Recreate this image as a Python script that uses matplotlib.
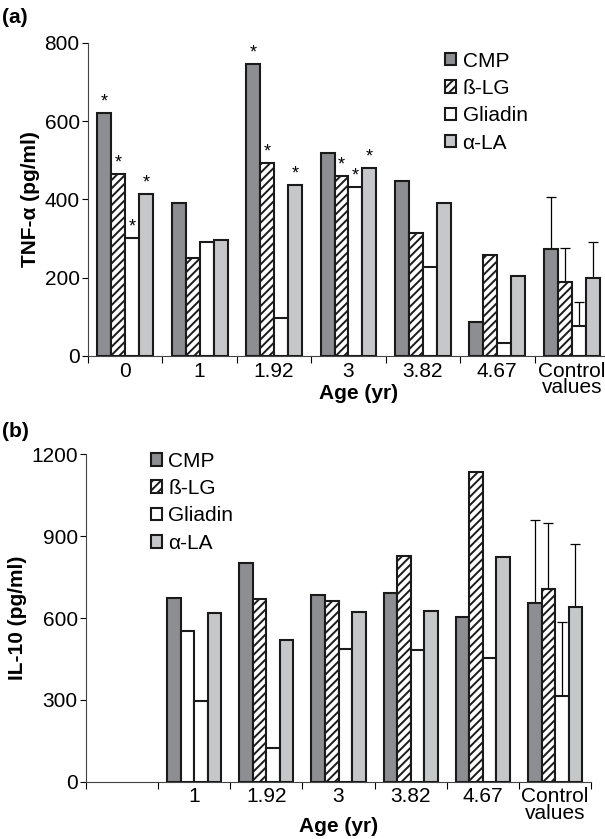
import numpy as np
import matplotlib.pyplot as plt

plt.rcParams["font.family"] = ["Liberation Sans", "DejaVu Sans"]
plt.rcParams["hatch.linewidth"] = 1.4

SERIES = ["CMP", "ß-LG", "Gliadin", "α-LA"]
AGES_A = ["0", "1", "1.92", "3", "3.82", "4.67", "Control\nvalues"]
AGES_B = ["", "1", "1.92", "3", "3.82", "4.67", "Control\nvalues"]

# panel (a) TNF-alpha, pg/ml
TNF_CMP = [620, 392, 747, 519, 447, 87, 274]
TNF_BLG = [465, 251, 492, 461, 313, 259, 189]
TNF_GLI = [301, 292, 98, 431, 228, 32, 77]
TNF_ALA = [414, 296, 438, 480, 392, 204, 198]
TNF_ERR = [132, 88, 62, 93]  # control group, upper only
TNF_STARS = [[0, 1, 2, 3], [], [0, 1, 3], [1, 2, 3], [], [], []]

# panel (b) IL-10, pg/ml (no data at age 0)
IL_CMP = [np.nan, 675, 800, 684, 693, 605, 654]
IL_BLG = [np.nan, 552, 671, 662, 829, 1136, 705]
IL_GLI = [np.nan, 297, 122, 488, 484, 453, 314]
IL_ALA = [np.nan, 620, 519, 623, 627, 824, 640]
IL_ERR = [304, 242, 273, 233]
IL_PLAIN = [(1, 1)]  # (series, group) drawn without hatch

FACES = ["#8d8e92", "white", "white", "#c6c7c9"]
HATCHES = [None, "////", None, None]
EDGE = "#1a1a1a"
W = 0.1875
FS = 15


def draw_panel(ax, data, errs, labels, ymax, yticks, ylabel, stars=None, plain=()):
    n = len(labels)
    x = np.arange(n)
    bars = []
    for i, vals in enumerate(data):
        offs = (i - 1.5) * W
        b = ax.bar(x + offs, vals, W, color=FACES[i], edgecolor=EDGE,
                   linewidth=1.5, hatch=HATCHES[i], label=SERIES[i], zorder=2)
        bars.append(b)
        ax.errorbar(x[-1] + offs, vals[-1], yerr=[[0], [errs[i]]], fmt="none",
                    ecolor="black", elinewidth=0.9, capsize=3.5, capthick=0.9, zorder=1)
    for s, g in plain:
        bars[s][g].set_hatch(None)
    if stars:
        for g, idx in enumerate(stars):
            for i in idx:
                ax.text(g + (i - 1.5) * W, data[i][g] + ymax * 0.008, "*",
                        ha="center", va="bottom", fontsize=13)
    ax.set_xlim(-0.5, n - 0.5)
    ax.set_ylim(0, ymax)
    ax.set_yticks(yticks)
    ax.tick_params(axis="y", labelsize=FS, length=4, width=0.8, direction="out", pad=2)
    ax.set_xticks(x)
    ax.set_xticklabels(labels, fontsize=FS, linespacing=0.85)
    ax.set_xticks(np.arange(n + 1) - 0.5, minor=True)
    ax.tick_params(axis="x", which="major", length=0, pad=4)
    ax.tick_params(axis="x", which="minor", length=5, width=0.8, direction="out")
    for side in ["top", "right"]:
        ax.spines[side].set_visible(False)
    for side in ["left", "bottom"]:
        ax.spines[side].set_linewidth(0.8)
        ax.spines[side].set_color("#444444")
    ax.set_ylabel(ylabel, fontsize=FS, fontweight="bold", labelpad=3)
    ax.set_xlabel("Age (yr)", fontsize=FS, fontweight="bold", labelpad=-4)


fig = plt.figure(figsize=(6.05, 8.39), dpi=100)
ax1 = fig.add_axes([0.1455, 0.5757, 0.861, 0.3733])
ax2 = fig.add_axes([0.1421, 0.0683, 0.835, 0.3902])

draw_panel(ax1, [TNF_CMP, TNF_BLG, TNF_GLI, TNF_ALA], TNF_ERR, AGES_A, 800,
           [0, 200, 400, 600, 800], "TNF-α (pg/ml)", stars=TNF_STARS)
draw_panel(ax2, [IL_CMP, IL_BLG, IL_GLI, IL_ALA], IL_ERR, AGES_B, 1200,
           [0, 300, 600, 900, 1200], "IL-10 (pg/ml)", plain=IL_PLAIN)
ax1.xaxis.set_label_coords(0.52, -0.088)

for ax, anchor in [(ax1, (0.718, 0.951)), (ax2, (0.232, 0.474))]:
    ax.legend(loc="upper left", bbox_to_anchor=anchor, bbox_transform=fig.transFigure,
              frameon=False, fontsize=FS, handlelength=0.55, handleheight=0.55,
              handletextpad=0.3, labelspacing=0.4, borderpad=0)

fig.text(0.003, 0.972, "(a)", fontsize=FS, fontweight="bold")
fig.text(0.003, 0.479, "(b)", fontsize=FS, fontweight="bold")

fig.savefig("out.png", dpi=100)
